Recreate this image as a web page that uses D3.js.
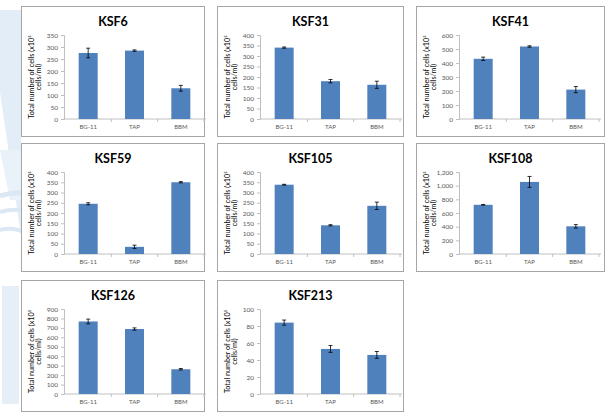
<!DOCTYPE html>
<html>
<head>
<meta charset="utf-8">
<script src="https://cdn.jsdelivr.net/npm/d3@7"></script>
<style>
  html, body { margin: 0; padding: 0; background: #ffffff; }
  svg { display: block; }
  text { font-family: Lato, "Open Sans", sans-serif; }
</style>
</head>
<body>
<svg id="chart" width="607" height="413"></svg>
<script>
// ---- data ----
const categories = ["BG-11", "TAP", "BBM"];
const strains = ["KSF6", "KSF31", "KSF41", "KSF59", "KSF105", "KSF108", "KSF126", "KSF213"];
const ksf6   = [275, 285, 128];
const ksf31  = [340, 180, 163];
const ksf41  = [430, 518, 210];
const ksf59  = [245, 35, 350];
const ksf105 = [338, 140, 235];
const ksf108 = [720, 1055, 405];
const ksf126 = [768, 688, 262];
const ksf213 = [84, 53, 46];
const err6   = [20, 3, 12];
const err31  = [3, 8, 17];
const err41  = [12, 5, 22];
const err59  = [5, 8, 3];
const err105 = [2, 3, 18];
const err108 = [5, 80, 25];
const err126 = [25, 12, 8];
const err213 = [3, 4, 4];
const yMaxima = [350, 400, 600, 400, 400, 1200, 900, 100];
const yTickSteps = [50, 50, 100, 50, 50, 200, 100, 20];
const yTitleLine1 = "Total number of cells (x10\u2075";
const yTitleLine2 = "cells/ml)";

const means = [ksf6, ksf31, ksf41, ksf59, ksf105, ksf108, ksf126, ksf213];
const errs  = [err6, err31, err41, err59, err105, err108, err126, err213];

// ---- layout ----
const colX = [21, 217, 416];
const colW = [184, 187, 189];
const rowY = [6, 143, 280];
const rowH = [131, 129, 132];

const svg = d3.select("#chart");

// background watermark (decorative)
const wm = svg.append("g").attr("fill", "#e3edf7");
wm.append("path").attr("d", "M0,10 L21,10 L21,236 L0,92 Z");
wm.append("path").attr("d", "M0,150 L21,150 L21,200 L10,200 Z").attr("fill", "#e9f1f9");
const sw = svg.append("g").attr("fill", "none").attr("stroke", "#dbe8f4");
sw.append("path").attr("d", "M0,196 Q30,186 64,206").attr("stroke-width", 5);
sw.append("path").attr("d", "M0,212 Q28,204 60,226").attr("stroke-width", 4);
sw.append("path").attr("d", "M0,230 Q22,224 48,248").attr("stroke-width", 4);
svg.append("rect").attr("x", 2).attr("y", 286).attr("width", 17).attr("height", 118).attr("fill", "#e6eff8");

const fmt = d3.format(",");

strains.forEach((name, i) => {
  const col = i % 3, row = Math.floor(i / 3);
  const w = colW[col], h = rowH[row];
  const g = svg.append("g").attr("transform", `translate(${colX[col]},${rowY[row]})`);

  g.append("rect")
    .attr("x", 0.5).attr("y", 0.5)
    .attr("width", w - 1).attr("height", h - 1)
    .attr("fill", "#ffffff")
    .attr("stroke", "#a6a6a6").attr("stroke-width", 1);

  // title
  g.append("text")
    .attr("x", w / 2).attr("y", 20)
    .attr("text-anchor", "middle")
    .attr("font-size", 12.5).attr("font-weight", "bold")
    .attr("fill", "#000")
    .text(name);

  const axisX = 43;
  const y0 = h - 18, yTop = 29;
  const x = d3.scaleBand().domain(categories).range([44, 183]).paddingInner(0.59).paddingOuter(0.295);
  const y = d3.scaleLinear().domain([0, yMaxima[i]]).range([y0, yTop]);
  const ticks = d3.range(0, yMaxima[i] + yTickSteps[i] / 2, yTickSteps[i]);

  // y axis
  const ya = g.append("g").attr("transform", `translate(${axisX},0)`)
    .call(d3.axisLeft(y).tickValues(ticks).tickFormat(fmt).tickSize(3).tickPadding(3));
  ya.select(".domain").attr("stroke", "#c0c0c0");
  ya.selectAll(".tick line").attr("stroke", "#c0c0c0");
  ya.selectAll(".tick text").attr("font-size", 6.5).attr("fill", "#595959")
    .attr("font-family", "Lato, 'Open Sans', sans-serif");

  // x axis
  const xa = g.append("g").attr("transform", `translate(0,${y0})`);
  xa.append("line").attr("x1", axisX).attr("x2", 185).attr("y1", 0).attr("y2", 0)
    .attr("stroke", "#c0c0c0");
  const step = x.step();
  categories.forEach((c, k) => {
    const bx = x(c) - (step - x.bandwidth()) / 2 + step;
    xa.append("line").attr("x1", bx).attr("x2", bx).attr("y1", 0).attr("y2", 3).attr("stroke", "#c0c0c0");
  });
  xa.selectAll("text.cat").data(categories).join("text")
    .attr("class", "cat")
    .attr("x", d => x(d) + x.bandwidth() / 2)
    .attr("y", 10)
    .attr("text-anchor", "middle")
    .attr("font-size", 6).attr("fill", "#595959")
    .text(d => d);

  // bars
  const vals = means[i], e = errs[i];
  g.selectAll("rect.bar").data(categories).join("rect")
    .attr("class", "bar")
    .attr("x", d => x(d))
    .attr("width", x.bandwidth())
    .attr("y", (d, k) => y(vals[k]))
    .attr("height", (d, k) => y0 - y(vals[k]))
    .attr("fill", "#4f81bd");

  // error bars
  const eg = g.append("g").attr("stroke", "#000").attr("stroke-width", 0.8);
  categories.forEach((c, k) => {
    const cx = x(c) + x.bandwidth() / 2;
    const yt = y(vals[k] + e[k]), yb = y(vals[k] - e[k]);
    eg.append("line").attr("x1", cx).attr("x2", cx).attr("y1", yt).attr("y2", yb);
    eg.append("line").attr("x1", cx - 2).attr("x2", cx + 2).attr("y1", yt).attr("y2", yt);
    eg.append("line").attr("x1", cx - 2).attr("x2", cx + 2).attr("y1", yb).attr("y2", yb);
  });

  // y title
  const cy = (yTop + y0) / 2;
  const t = g.append("text")
    .attr("transform", `translate(13,${cy}) rotate(-90)`)
    .attr("text-anchor", "middle")
    .attr("font-size", 7.2).attr("fill", "#000");
  t.append("tspan").attr("x", 0).attr("y", 0).text(yTitleLine1);
  t.append("tspan").attr("x", 0).attr("y", 7.2).text(yTitleLine2);
});
</script>
</body>
</html>
